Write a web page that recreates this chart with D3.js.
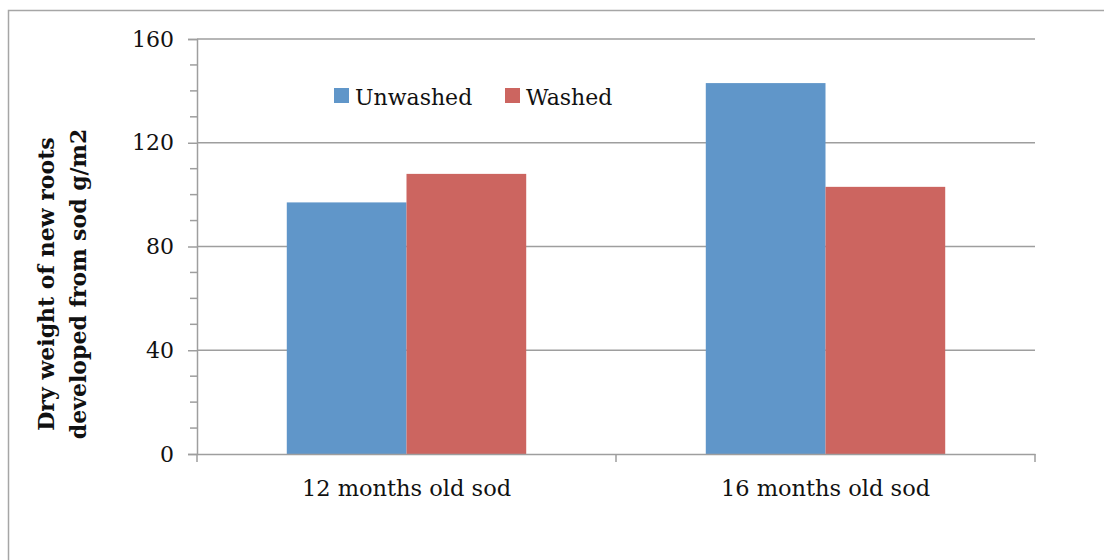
<!DOCTYPE html>
<html>
<head>
<meta charset="utf-8">
<script src="https://cdn.jsdelivr.net/npm/d3@7"></script>
<style>
  html, body { margin: 0; padding: 0; background: #fff; }
  svg { display: block; }
  text { font-family: "DejaVu Serif", "Liberation Serif", serif; fill: #111; }
</style>
</head>
<body>
<svg id="chart" width="1104" height="560"></svg>
<script>
// Chart data
const categories = ["12 months old sod", "16 months old sod"];
const seriesNames = ["Unwashed", "Washed"];
const unwashed = [97, 143];
const washed = [108, 103];
const yTicks = [0, 40, 80, 120, 160];
const yMinorTicks = [10, 20, 30, 50, 60, 70, 90, 100, 110, 130, 140, 150];
const yTitleLines = ["Dry weight of new roots", "developed from sod g/m2"];

const colors = ["#6096c9", "#cc6560"];
const values = [unwashed, washed];

const svg = d3.select("#chart");
const plot = { left: 197, right: 1035, top: 39, bottom: 454 };

// Outer chart frame
svg.append("rect")
  .attr("x", 8.5).attr("y", 10.5)
  .attr("width", 1200).attr("height", 700)
  .attr("fill", "none").attr("stroke", "#a6a6a6").attr("stroke-width", 1.5);

const x0 = d3.scaleBand().domain(categories).range([plot.left, plot.right]).paddingInner(0).paddingOuter(0);
const y = d3.scaleLinear().domain([0, 160]).range([plot.bottom, plot.top]);

// Horizontal gridlines
svg.append("g").selectAll("line").data(yTicks.filter(d => d > 0)).join("line")
  .attr("x1", plot.left).attr("x2", plot.right)
  .attr("y1", d => y(d)).attr("y2", d => y(d))
  .attr("stroke", "#9e9e9e").attr("stroke-width", 1.5);

// Bars: group occupies band / 1.75 (gap width 150%)
const groupW = x0.bandwidth() / 1.75;
const barW = groupW / 2;
const bars = [];
categories.forEach((c, i) => {
  values.forEach((arr, s) => bars.push({ c, s, v: arr[i] }));
});
svg.append("g").selectAll("rect").data(bars).join("rect")
  .attr("x", d => x0(d.c) + (x0.bandwidth() - groupW) / 2 + d.s * barW)
  .attr("y", d => y(d.v))
  .attr("width", barW)
  .attr("height", d => y(0) - y(d.v))
  .attr("fill", d => colors[d.s]);

// Y axis
const yAxis = svg.append("g").attr("transform", `translate(${plot.left},0)`)
  .call(d3.axisLeft(y).tickValues(yTicks).tickSize(9).tickPadding(14).tickFormat(d3.format("d")));
yAxis.select(".domain").attr("stroke", "#9e9e9e").attr("stroke-width", 1.5);
yAxis.selectAll(".tick line").attr("stroke", "#9e9e9e").attr("stroke-width", 1.5);
yAxis.selectAll(".tick text").attr("font-size", 22).attr("font-family", "DejaVu Serif").attr("fill", "#111");

svg.append("g").selectAll("line").data(yMinorTicks).join("line")
  .attr("x1", plot.left - 7).attr("x2", plot.left)
  .attr("y1", d => y(d)).attr("y2", d => y(d))
  .attr("stroke", "#9e9e9e").attr("stroke-width", 1.5);

// X axis
const xAxis = svg.append("g").attr("transform", `translate(0,${plot.bottom})`)
  .call(d3.axisBottom(x0).tickSize(0).tickPadding(26));
xAxis.select(".domain").attr("stroke", "#9e9e9e").attr("stroke-width", 1.5);
xAxis.selectAll(".tick text").attr("font-size", 22.5).attr("font-family", "DejaVu Serif").attr("fill", "#111");
// Category boundary tick marks
const bounds = [plot.left, ...categories.map(c => x0(c) + x0.bandwidth())];
svg.append("g").selectAll("line").data(bounds).join("line")
  .attr("x1", d => d).attr("x2", d => d)
  .attr("y1", plot.bottom).attr("y2", plot.bottom + 8)
  .attr("stroke", "#9e9e9e").attr("stroke-width", 1.5);

// Y axis title
const yTitle = svg.append("text")
  .attr("transform", "translate(61,284) rotate(-90)")
  .attr("text-anchor", "middle")
  .attr("font-weight", "bold").attr("font-size", 22);
yTitle.selectAll("tspan").data(yTitleLines).join("tspan")
  .attr("x", 0).attr("dy", (d, i) => i === 0 ? "-0.3em" : "1.45em")
  .text(d => d);

// Legend
const legendPos = [{ x: 334, tx: 355 }, { x: 505, tx: 526 }];
const legend = svg.append("g");
seriesNames.forEach((name, i) => {
  legend.append("rect").attr("x", legendPos[i].x).attr("y", 88)
    .attr("width", 15).attr("height", 15).attr("fill", colors[i]);
  legend.append("text").attr("x", legendPos[i].tx).attr("y", 105)
    .attr("font-size", 22).text(name);
});
</script>
</body>
</html>
